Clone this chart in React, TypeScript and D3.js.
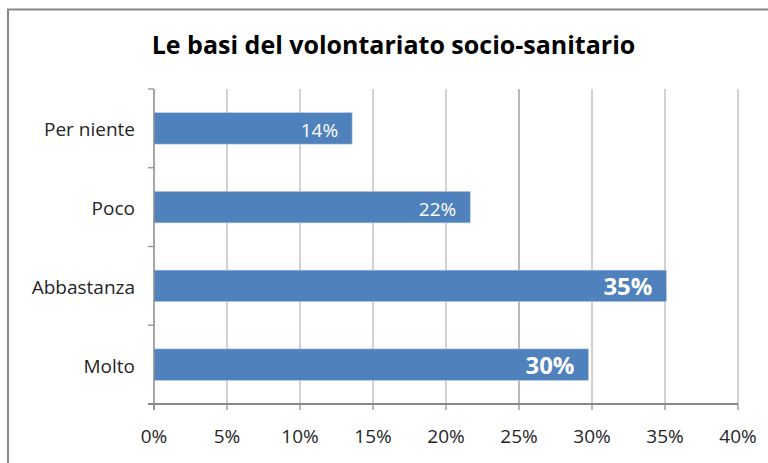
import React from "react";
import * as d3 from "d3";

const categories = ["Per niente", "Poco", "Abbastanza", "Molto"];
const values = [13.57, 21.66, 35.1, 29.76];
const valueLabels = ["14%", "22%", "35%", "30%"];
const emphasized = [false, false, true, true];
const xTicks = [0, 5, 10, 15, 20, 25, 30, 35, 40];
const title = "Le basi del volontariato socio-sanitario";

const W = 768;
const H = 463;
const left = 154;
const right = 738;
const top = 89;
const bottom = 404;
const FONT = "'Open Sans', sans-serif";

export default function App() {
  const x = d3.scaleLinear().domain([0, 40]).range([left, right]);
  const y = d3.scaleBand().domain(categories).range([top, bottom]).paddingInner(0.6).paddingOuter(0.3);
  const band = d3.scaleBand().domain(categories).range([top, bottom]);
  const boundaries = [...categories.map((c) => band(c) as number), bottom];

  return (
    <svg width={W} height={H} style={{ position: "absolute", left: 0, top: 0, background: "#fff" }}>
      <rect x={8} y={9.5} width={W + 20} height={H + 20} fill="#fff" stroke="#878787" strokeWidth={2} />
      <text x={393.5} y={54} textAnchor="middle" fontFamily={FONT} fontWeight={700} fontSize={25} fill="#000">
        {title}
      </text>
      {xTicks.slice(1).map((t) => (
        <line key={t} x1={x(t)} x2={x(t)} y1={top} y2={bottom} stroke={t === 25 ? "#8a8a8a" : "#b4b4b4"} strokeWidth={1.2} />
      ))}
      {categories.map((c, i) => {
        const y0 = y(c) as number;
        const h = y.bandwidth();
        const cy = y0 + h / 2;
        return (
          <g key={c}>
            <rect x={x(0)} y={y0} width={x(values[i]) - x(0)} height={h} fill="#4F81BD" stroke="#b9cde5" strokeWidth={0.6} />
            <text
              x={x(values[i]) - 14}
              y={cy + (emphasized[i] ? 9 : 8.5)}
              textAnchor="end"
              fontFamily={FONT}
              fontWeight={emphasized[i] ? 700 : 400}
              fontSize={emphasized[i] ? 24 : 19}
              fill="#fff"
            >
              {valueLabels[i]}
            </text>
            <text x={135} y={cy + 8} textAnchor="end" fontFamily={FONT} fontSize={19} fill="#262626">
              {c}
            </text>
          </g>
        );
      })}
      {boundaries.map((b, i) => (
        <line key={i} x1={148} x2={left} y1={b} y2={b} stroke="#888" strokeWidth={1.2} />
      ))}
      <line x1={left} x2={left} y1={top} y2={bottom + 6} stroke="#888" strokeWidth={1.5} />
      <line x1={left - 6} x2={right} y1={bottom} y2={bottom} stroke="#888" strokeWidth={1.8} />
      {xTicks.map((t) => (
        <g key={t}>
          <line x1={x(t)} x2={x(t)} y1={bottom} y2={bottom + 6} stroke="#888" strokeWidth={1.2} />
          <text x={x(t)} y={443} textAnchor="middle" fontFamily={FONT} fontSize={19} fill="#262626">
            {t}%
          </text>
        </g>
      ))}
    </svg>
  );
}
